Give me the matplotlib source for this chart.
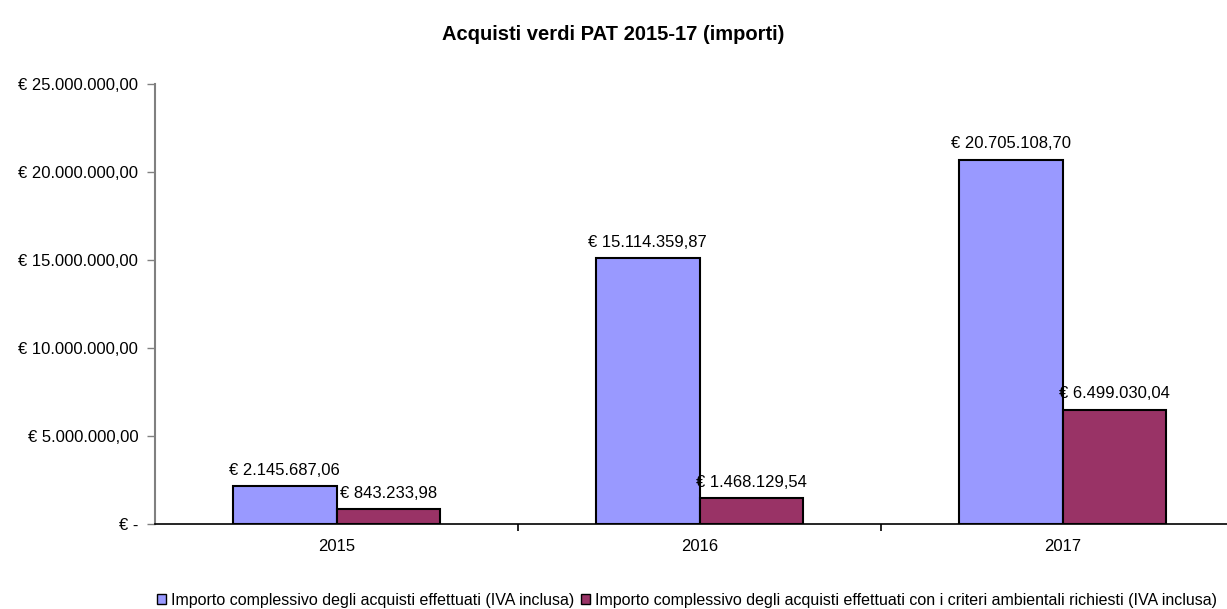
import matplotlib.pyplot as plt
import numpy as np
from matplotlib.ticker import FuncFormatter

plt.rcParams['font.family'] = ['Liberation Sans', 'DejaVu Sans']

# Data
years = ["2015", "2016", "2017"]
totale = [2145687.06, 15114359.87, 20705108.70]
verdi = [843233.98, 1468129.54, 6499030.04]
series_names = [
    "Importo complessivo degli acquisti effettuati (IVA inclusa)",
    "Importo complessivo degli acquisti effettuati con i criteri ambientali richiesti (IVA inclusa)",
]
colors = ["#9999FF", "#993366"]


def euro(v):
    if v == 0:
        return "€ -"
    s = f"{v:,.2f}"
    s = s.replace(",", "X").replace(".", ",").replace("X", ".")
    return "€ " + s


fig = plt.figure(figsize=(12.27, 6.09), dpi=100)
ax = fig.add_axes([155 / 1227, 85 / 609, 1089 / 1227, 440 / 609])

x = np.arange(len(years))
w = 1 / 3.5
b1 = ax.bar(x - w / 2, totale, w, color=colors[0], edgecolor="black", linewidth=1.5,
            label=series_names[0])
b2 = ax.bar(x + w / 2, verdi, w, color=colors[1], edgecolor="black", linewidth=1.5,
            label=series_names[1])

for bars, vals in [(b1, totale), (b2, verdi)]:
    for r, v in zip(bars, vals):
        ax.annotate(euro(v), (r.get_x() + r.get_width() / 2, v),
                    xytext=(0, 6), textcoords="offset points",
                    ha="center", va="bottom", fontsize=12)

ax.set_xlim(-0.5, 2.5)
ax.set_ylim(0, 25000000)
ax.set_yticks(np.arange(0, 25000001, 5000000))
ax.yaxis.set_major_formatter(FuncFormatter(lambda v, p: euro(v)))

# category ticks between groups, labels at centers
ax.set_xticks([0.5, 1.5], minor=False)
ax.set_xticklabels([])
ax.set_xticks(x, minor=True)
ax.set_xticklabels(years, minor=True)
ax.tick_params(axis="x", which="minor", length=0, pad=11, labelsize=12)
ax.tick_params(axis="x", which="major", length=5, width=1.2, direction="out")
ax.tick_params(axis="y", length=6, width=1, color="#808080", labelsize=12, pad=6)

for s in ["top", "right"]:
    ax.spines[s].set_visible(False)
ax.spines["left"].set_color("#808080")
ax.spines["left"].set_linewidth(1.5)
ax.spines["bottom"].set_color("black")
ax.spines["bottom"].set_linewidth(1.2)

fig.text(0.5, 1 - 34 / 609, "Acquisti verdi PAT 2015-17 (importi)",
         ha="center", va="center", fontsize=14.5, fontweight="bold")

leg = fig.legend(loc="center", bbox_to_anchor=(687 / 1227, 1 - 600 / 609), ncol=2,
                 frameon=False, handlelength=0.6, handleheight=0.6,
                 handletextpad=0.3, columnspacing=0.4,
                 prop={"family": ["Liberation Sans"], "size": 11.5})
for h in leg.legend_handles:
    h.set_linewidth(1)

fig.savefig("out.png", dpi=100)
